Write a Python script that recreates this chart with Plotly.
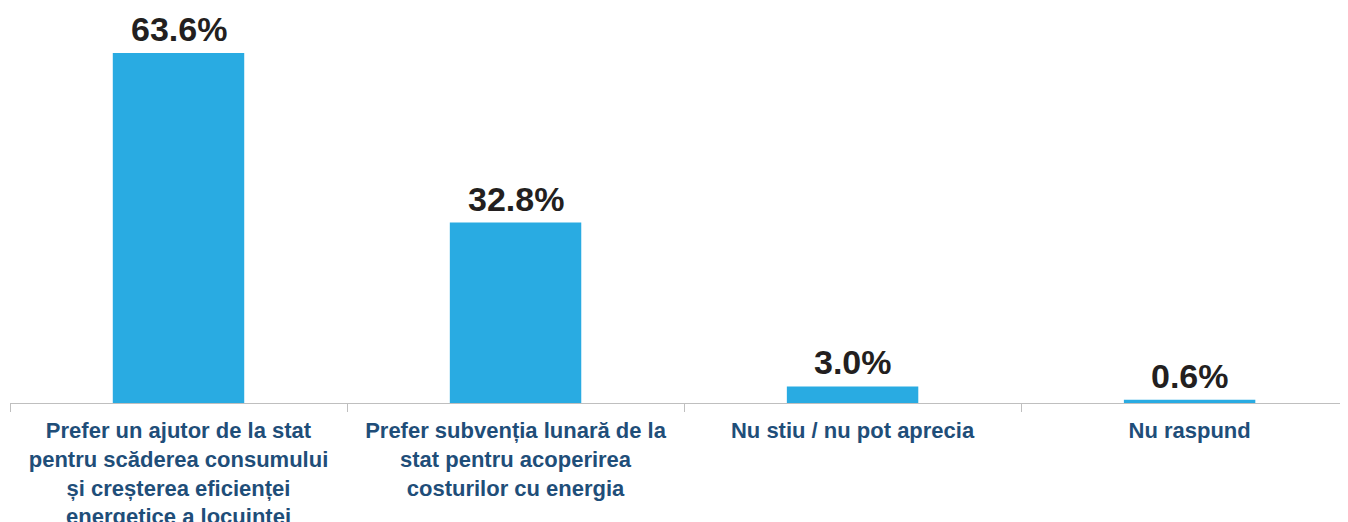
"""
    Bar chart: preferred type of state support for energy costs.
"""

import plotly.graph_objects as go

CATEGORIES = [
    'Prefer un ajutor de la stat<br>pentru scăderea consumului<br>'
    'și creșterea eficienței<br>energetice a locuinței',
    'Prefer subvenția lunară de la<br>stat pentru acoperirea<br>costurilor cu energia',
    'Nu stiu / nu pot aprecia',
    'Nu raspund',
]
VALUES = [63.6, 32.8, 3.0, 0.6]
VALUE_LABELS = ['63.6%', '32.8%', '3.0%', '0.6%']

BAR_COLOR = '#29ABE2'
LABEL_COLOR = '#1F4E79'
VALUE_COLOR = '#231F20'
FONT = 'Liberation Sans, Arial, sans-serif'

# bold every line of the category labels
bold_categories = ['<b>' + c.replace('<br>', '</b><br><b>') + '</b>' for c in CATEGORIES]

fig = go.Figure(
    go.Bar(
        x=bold_categories,
        y=VALUES,
        marker=dict(color=BAR_COLOR, line=dict(width=0)),
        width=0.39,
    )
)
# value labels above the bars
for cat, val, lab in zip(bold_categories, VALUES, VALUE_LABELS):
    fig.add_annotation(
        x=cat, y=val,
        text='<b>' + lab + '</b>',
        showarrow=False,
        yanchor='bottom',
        yshift=3,
        font=dict(family=FONT, size=34, color=VALUE_COLOR),
    )

# the page body adds an 8px margin, so the figure is 8px smaller
fig.update_layout(
    width=1340,
    height=514,
    margin=dict(l=2, r=0, t=0, b=119, autoexpand=False),
    plot_bgcolor='white',
    paper_bgcolor='white',
    showlegend=False,
    font=dict(family=FONT),
)
fig.update_xaxes(
    type='category',
    tickfont=dict(family=FONT, size=22, color=LABEL_COLOR),
    range=[-0.5, 3.47],
    automargin=False,
    showline=True,
    linecolor='#BFBFBF',
    linewidth=1,
    ticks='outside',
    tickson='boundaries',
    ticklen=8,
    tickcolor='#BFBFBF',
    ticklabelstandoff=8,
    showgrid=False,
    zeroline=False,
)
fig.update_yaxes(
    range=[0, 71.78],
    visible=False,
    automargin=False,
    showgrid=False,
    zeroline=False,
)

fig.write_html('out.html')
